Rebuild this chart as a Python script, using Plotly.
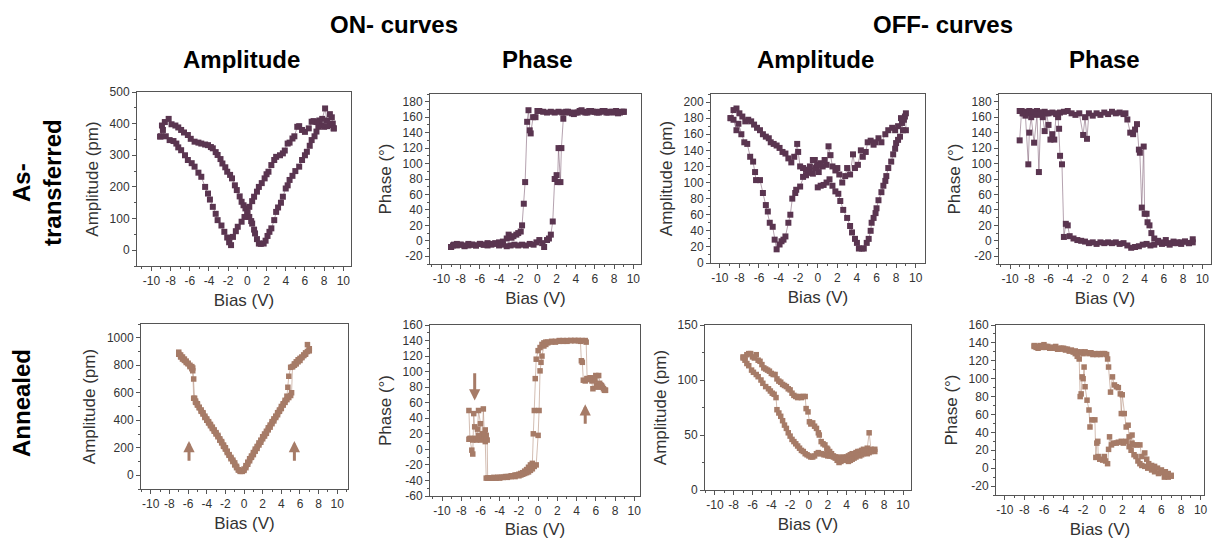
import plotly.graph_objects as go

W, H = 1215, 539

# ---------------- DATA ----------------
# Row 1: As-transferred, ON amplitude
ON_AMP_AS_FWD_BIAS = [-9.0,-8.9,-8.6,-8.2,-7.9,-7.5,-7.2,-6.9,-6.6,-6.2,-5.9,-5.5,-5.1,-4.8,-4.4,-4.1,-3.8,-3.6,-3.3,-3.1,
                      -2.8,-2.6,-2.3,-2.1,-1.8,-1.6,-1.3,-1.1,-0.8,-0.6,-0.4,-0.2,0.0,0.2,0.4,0.5,0.7,0.8,1.0,1.2,
                      1.4,1.7,1.9,2.1,2.3,2.5,2.8,3.0,3.2,3.5,3.7,4.0,4.2,4.4,4.7,5.0,5.4,5.7,6.0,6.2,
                      6.5,6.7,7.0,7.2,7.4,7.7,8.0,8.3,8.6,8.9,9.0]
ON_AMP_AS_FWD_PM = [360,394,405,415,398,394,388,380,372,364,352,343,340,337,334,332,326,322,310,301,
                    288,274,262,248,238,227,205,190,170,153,142,132,118,105,92,84,65,53,35,21,
                    20,21,30,45,58,69,95,121,135,150,169,195,205,222,235,250,264,285,300,311,
                    330,348,360,375,390,395,390,392,395,400,385]
ON_AMP_AS_REV_BIAS = [9.0,8.8,8.6,8.3,8.1,7.8,7.5,7.2,6.9,6.7,6.4,6.0,5.7,5.4,5.2,4.9,4.7,4.4,4.2,3.9,
                      3.7,3.4,3.0,2.8,2.5,2.2,2.0,1.8,1.5,1.2,1.0,0.7,0.5,0.2,0.0,-0.3,-0.6,-1.0,-1.2,-1.5,
                      -1.7,-1.9,-2.1,-2.4,-2.7,-3.1,-3.3,-3.6,-3.9,-4.1,-4.4,-4.8,-5.1,-5.5,-5.8,-6.2,-6.5,-6.9,-7.2,-7.4,
                      -7.7,-8.1,-8.5,-8.8,-9.1]
ON_AMP_AS_REV_PM = [385,420,430,410,448,415,410,405,408,406,385,374,380,392,390,360,353,340,337,315,
                    306,300,295,285,269,248,240,227,212,200,185,169,155,137,120,105,90,74,60,42,
                    16,25,40,58,78,95,115,137,160,179,200,232,245,264,275,285,300,316,325,337,
                    345,348,360,380,359]

# Row 1: As-transferred, ON phase
ON_PH_AS_FWD_BIAS = [-9.0,-8.7,-8.4,-8.0,-7.6,-7.2,-6.8,-6.4,-6.0,-5.6,-5.2,-4.8,-4.4,-4.0,-3.6,-3.2,-2.8,-2.4,-2.0,-1.6,
                     -1.2,-0.8,-0.4,-0.1,0.2,0.5,0.7,1.0,1.2,1.4,1.6,1.8,2.0,2.1,2.2,2.4,2.5,2.7,2.8,3.2,
                     3.6,4.0,4.4,4.8,5.2,5.6,6.0,6.4,6.8,7.2,7.6,8.0,8.4,8.8,9.0]
ON_PH_AS_FWD_DEG = [-8,-5,-6,-5,-7,-6,-5,-6,-4,-5,-6,-5,-4,-6,-5,-7,-6,-5,-6,-5,
                    -6,-4,-5,-2,1,-3,-8,1,3,8,25,80,85,76,120,76,120,158,166,167,
                    165,166,168,167,166,168,167,166,168,166,167,166,165,167,167]
ON_PH_AS_REV_BIAS = [9.0,8.6,8.2,7.8,7.4,7.0,6.6,6.2,5.8,5.4,5.0,4.6,4.2,3.8,3.4,3.0,2.6,2.2,1.8,1.4,
                     1.0,0.6,0.2,0.0,-0.2,-0.45,-0.7,-0.8,-0.93,-1.07,-1.28,-1.42,-1.6,-1.74,-2.0,-2.2,-2.5,-2.7,-3.0,-3.2,
                     -3.6,-4.0,-4.4,-4.8,-5.2,-5.6,-6.0,-6.4,-6.8,-7.2,-7.6,-8.0,-8.4,-8.8,-9.0]
ON_PH_AS_REV_DEG = [167,166,168,167,166,168,167,166,167,168,166,169,166,164,166,167,166,167,166,167,
                    166,167,168,168,160,160,139,143,169,154,76,48,20,12,10,8,6,4,8,3,
                    -1,-2,-3,-4,-3,-5,-4,-6,-5,-4,-6,-5,-4,-6,-8]

# Row 1: As-transferred, OFF amplitude
OFF_AMP_AS_A_BIAS = [0.0,0.3,0.6,0.9,1.2,1.5,1.8,2.1,2.3,2.6,3.0,3.3,3.5,3.8,4.0,4.2,4.5,4.7,5.0,5.2,
                     5.4,5.5,5.7,5.9,6.0,6.2,6.5,6.7,6.9,7.0,7.2,7.5,7.7,7.9,8.0,8.2,8.4,8.6,8.8,8.9,9.0]
OFF_AMP_AS_A_PM = [94,96,97,100,104,96,89,86,77,66,56,46,38,30,25,18,18,18,25,30,
                   40,50,56,62,68,78,88,96,102,108,118,126,135,142,149,153,157,174,178,182,186]
OFF_AMP_AS_B_BIAS = [9.0,8.7,8.5,8.2,7.9,7.6,7.2,6.9,6.5,6.2,5.9,5.7,5.4,5.1,4.9,4.6,4.4,4.1,3.8,3.6,
                     3.3,3.0,2.8,2.5,2.2,2.0,1.8,1.5,1.3,1.1,0.9,0.7,0.5,0.3,0.1,-0.1,-0.3,-0.5,-0.8,-1.0,
                     -1.2,-1.5,-1.8,-2.0,-2.1,-2.4,-2.7,-3.0,-3.3,-3.6,-3.9,-4.2,-4.5,-4.8,-5.0,-5.3,-5.6,-5.9,-6.2,-6.5,
                     -6.8,-7.1,-7.4,-7.7,-8.0,-8.3,-8.6,-8.9]
OFF_AMP_AS_B_PM = [165,165,180,170,165,168,165,160,150,155,150,147,152,150,138,132,140,122,118,135,
                   110,118,108,100,110,118,115,120,134,145,122,128,120,124,113,120,128,111,115,112,
                   109,118,120,138,148,132,125,130,136,138,143,146,148,150,155,157,160,165,168,172,
                   176,178,176,182,186,192,190,180]
OFF_AMP_AS_C_BIAS = [-8.9,-8.6,-8.3,-8.1,-7.8,-7.5,-7.2,-6.9,-6.6,-6.4,-6.3,-5.9,-5.6,-5.3,-5.1,-4.9,-4.6,-4.4,-4.2,-3.9,
                     -3.7,-3.5,-3.3,-3.0,-2.8,-2.6,-2.3,-2.2,-1.8,-1.5,-1.2,-0.8,-0.5,-0.2,0.0]
OFF_AMP_AS_C_PM = [180,178,165,173,160,150,148,132,126,113,103,103,87,72,64,50,45,29,17,23,
                   27,29,33,50,60,80,87,91,95,107,116,120,128,118,122]

# Row 1: As-transferred, OFF phase
OFF_PH_AS_FWD_BIAS = [-9.0,-8.8,-8.6,-8.4,-8.2,-8.0,-7.8,-7.6,-7.2,-6.8,-6.4,-6.0,-5.6,-5.2,-4.8,-4.4,-4.0,-3.6,-3.2,-2.8,
                      -2.4,-2.2,-2.0,-1.8,-1.4,-1.0,-0.6,-0.2,0.2,0.6,1.0,1.4,1.8,2.0,2.2,2.5,2.8,3.0,3.2,3.4,
                      3.5,3.7,3.9,4.0,4.2,4.3,4.5,4.7,5.0,5.4,5.8,6.2,6.6,7.0,7.4,7.8,8.2,8.6,9.0]
OFF_PH_AS_FWD_DEG = [130,168,165,167,165,168,166,167,168,166,167,165,166,164,166,167,168,165,163,165,
                     137,160,132,165,162,165,163,166,164,167,165,166,164,165,157,140,138,144,151,118,
                     114,43,122,35,35,24,20,10,3,0,-2,1,-3,-1,-3,-2,-1,-3,2]
OFF_PH_AS_REV_BIAS = [9.0,8.6,8.2,7.8,7.4,7.0,6.6,6.2,5.8,5.4,5.0,4.6,4.2,3.8,3.4,3.0,2.6,2.2,1.8,1.4,
                      1.0,0.6,0.2,-0.2,-0.6,-1.0,-1.4,-1.8,-2.2,-2.6,-3.0,-3.4,-3.8,-4.0,-4.2,-4.4,-4.6,-4.8,-4.9,-5.0,
                      -5.2,-5.4,-5.6,-5.8,-6.0,-6.2,-6.4,-6.6,-6.8,-7.0,-7.2,-7.5,-7.8,-8.0,-8.1,-8.4,-8.7,-9.0]
OFF_PH_AS_REV_DEG = [-2,-3,-1,-4,-2,-3,-5,-3,-4,-2,-5,-6,-4,-5,-7,-8,-9,-6,-3,-4,
                     -2,-3,-2,-3,-2,-4,-2,-3,-1,0,1,3,6,20,22,5,99,110,145,160,
                     165,131,138,131,150,165,142,160,166,89,163,127,160,140,99,162,165,168]

# Row 2: Annealed, ON amplitude
ON_AMP_AN_FWD_BIAS = [-7.0,-6.8,-6.6,-6.4,-6.2,-6.0,-5.8,-5.6,-5.5,-5.4,-5.2,-5.0,-4.8,-4.6,-4.4,-4.2,-4.0,-3.8,-3.6,-3.4,
                      -3.2,-3.0,-2.8,-2.6,-2.4,-2.2,-2.0,-1.8,-1.6,-1.4,-1.2,-1.0,-0.8,-0.6,-0.4,-0.2,0.0,0.2,0.4,0.6,
                      0.8,1.0,1.2,1.4,1.6,1.8,2.0,2.2,2.4,2.6,2.8,3.0,3.2,3.4,3.6,3.8,4.0,4.2,4.4,4.6,
                      4.8,5.0,5.1,5.2,5.4,5.6,5.8,6.0,6.2,6.4,6.6,6.8,7.0]
ON_AMP_AN_FWD_PM = [880,860,845,835,820,810,790,775,760,560,530,510,490,465,445,420,400,380,360,340,
                    320,300,280,255,235,210,190,165,145,120,100,75,55,38,30,28,35,55,80,105,
                    130,150,175,195,220,240,265,285,305,330,350,375,395,420,440,465,485,510,530,550,
                    565,580,600,790,810,825,840,850,860,875,890,950,905]
ON_AMP_AN_REV_BIAS = [7.0,6.8,6.6,6.4,6.2,6.0,5.8,5.6,5.4,5.2,5.0,4.8,4.7,4.6,4.4,4.2,4.0,3.8,3.6,3.4,
                      3.2,3.0,2.8,2.6,2.4,2.2,2.0,1.8,1.6,1.4,1.2,1.0,0.8,0.6,0.4,0.2,0.0,-0.2,-0.4,-0.6,
                      -0.8,-1.0,-1.2,-1.4,-1.6,-1.8,-2.0,-2.2,-2.4,-2.6,-2.8,-3.0,-3.2,-3.4,-3.6,-3.8,-4.0,-4.2,-4.4,-4.6,
                      -4.8,-5.0,-5.2,-5.3,-5.4,-5.5,-5.6,-5.8,-6.0,-6.2,-6.4,-6.6,-6.8,-7.0]
ON_AMP_AN_REV_PM = [920,900,880,870,855,835,825,810,800,790,785,720,640,575,545,520,500,475,455,430,
                    410,390,365,345,320,300,280,255,235,210,190,165,140,120,95,70,45,30,28,40,
                    65,90,110,130,150,175,200,220,245,265,290,310,330,350,370,390,410,430,455,475,
                    495,520,540,560,700,780,790,800,815,830,845,860,875,895]

# Row 2: Annealed, ON phase
ON_PH_AN_FWD_BIAS = [-7.2,-7.1,-6.9,-6.8,-6.7,-6.6,-6.4,-6.3,-6.2,-6.0,-5.9,-5.8,-5.7,-5.6,-5.5,-5.4,-5.3,-5.25,-5.0,-4.8,
                     -4.6,-4.4,-4.2,-4.0,-3.8,-3.6,-3.4,-3.2,-3.0,-2.8,-2.6,-2.4,-2.2,-2.0,-1.8,-1.6,-1.4,-1.2,-1.0,-0.8,
                     -0.6,-0.5,-0.4,-0.3,-0.2,0.0,0.2,0.4,0.6,0.8,1.0,1.4,1.8,2.2,2.6,3.0,3.4,3.8,4.2,4.4,
                     4.5,4.6,4.7,4.9,5.1,5.3,5.5,5.7,5.9,6.1,6.3,6.5,6.7,6.9,7.0]
ON_PH_AN_FWD_DEG = [50,14,-1,-6,46,29,14,26,50,33,16,14,52,20,25,18,12,-37,-37,-37,
                    -36,-37,-36,-36,-36,-36,-35,-35,-35,-34,-34,-33,-33,-32,-31,-30,-28,-26,-23,-20,
                    -18,20,50,91,116,127,131,135,137,138,138,139,139,140,140,140,140,140,140,139,
                    114,112,89,88,91,90,92,78,89,82,95,83,80,76,76]
ON_PH_AN_REV_BIAS = [7.0,6.8,6.6,6.4,6.2,6.0,5.8,5.6,5.4,5.2,5.1,5.0,4.9,4.6,4.2,3.8,3.4,3.0,2.6,2.2,
                     1.8,1.4,1.0,0.8,0.6,0.4,0.3,0.2,0.1,0.0,-0.2,-0.4,-0.6,-0.8,-1.0,-1.2,-1.4,-1.6,-1.8,-2.0,
                     -2.4,-2.8,-3.2,-3.6,-4.0,-4.4,-4.8,-5.2,-5.4,-5.5,-5.6,-5.8,-6.0,-6.2,-6.4,-6.6,-6.8,-7.0,-7.2]
ON_PH_AN_REV_DEG = [76,78,82,85,80,95,90,88,92,90,91,138,140,140,140,140,140,139,139,139,
                    138,138,137,135,133,120,112,101,50,18,-20,-22,-25,-27,-29,-30,-31,-32,-33,-34,
                    -35,-35,-36,-36,-37,-37,-37,-37,-37,10,15,20,12,18,12,14,12,14,13]

# Row 2: Annealed, OFF amplitude
OFF_AMP_AN_FWD_BIAS = [-7.0,-6.8,-6.6,-6.4,-6.2,-6.0,-5.8,-5.6,-5.4,-5.2,-5.0,-4.8,-4.6,-4.4,-4.2,-4.0,-3.8,-3.6,-3.4,-3.2,
                       -3.0,-2.8,-2.6,-2.4,-2.2,-2.0,-1.8,-1.6,-1.4,-1.2,-1.0,-0.8,-0.6,-0.4,-0.3,-0.1,0.05,0.2,0.4,0.6,
                       0.8,1.0,1.1,1.3,1.5,1.7,1.9,2.0,2.2,2.4,2.6,2.8,3.0,3.2,3.4,3.6,3.8,4.0,4.2,4.4,
                       4.6,4.8,5.0,5.2,5.4,5.6,5.8,6.0,6.2,6.4,6.6,6.8,7.0]
OFF_AMP_AN_FWD_PM = [121,120,123,124,124,121,120,123,118,117,114,111,110,109,108,106,105,105,101,99,
                     98,96,95,94,92,91,88,86,85,84,85,84,85,85,74,71,62,60,61,58,
                     56,52,50,44,42,41,38,37,35,33,31,30,30,28,29,30,29,30,31,32,
                     33,32,34,35,35,36,37,36,38,52,37,36,37]
OFF_AMP_AN_REV_BIAS = [7.0,6.8,6.6,6.4,6.2,6.0,5.8,5.6,5.4,5.2,5.0,4.8,4.6,4.4,4.2,4.0,3.8,3.6,3.4,3.2,
                       3.0,2.8,2.6,2.4,2.2,2.0,1.8,1.6,1.4,1.2,1.0,0.8,0.6,0.4,0.2,0.0,-0.2,-0.4,-0.6,-0.8,
                       -1.0,-1.2,-1.4,-1.6,-1.8,-2.0,-2.2,-2.4,-2.6,-2.8,-3.0,-3.2,-3.4,-3.5,-3.7,-3.9,-4.1,-4.3,-4.6,-4.9,
                       -5.1,-5.4,-5.6,-5.9,-6.1,-6.4,-6.6,-6.8,-7.0]
OFF_AMP_AN_REV_PM = [35,36,35,34,33,35,33,32,31,32,30,29,28,27,26,27,28,27,26,25,
                     27,29,30,31,31,31,32,32,33,33,34,33,31,30,30,31,32,33,35,36,
                     38,40,42,44,46,49,52,56,59,63,67,70,73,84,87,88,90,92,94,97,
                     100,103,105,107,109,113,115,118,120]

# Row 2: Annealed, OFF phase
OFF_PH_AN_FWD_BIAS = [-7.0,-6.8,-6.6,-6.4,-6.2,-6.0,-5.8,-5.6,-5.4,-5.2,-5.0,-4.8,-4.6,-4.4,-4.2,-4.0,-3.8,-3.6,-3.4,-3.2,
                      -3.0,-2.8,-2.6,-2.4,-2.2,-2.0,-1.8,-1.6,-1.4,-1.2,-1.0,-0.8,-0.6,-0.4,-0.2,0.0,0.2,0.4,0.5,0.6,
                      0.8,1.0,1.2,1.4,1.6,1.8,1.9,2.0,2.2,2.4,2.6,2.7,2.9,3.0,3.2,3.4,3.6,3.8,4.0,4.3,
                      4.6,5.0,5.3,5.7,6.0,6.3,6.5,6.7,7.0]
OFF_PH_AN_FWD_DEG = [137,135,136,137,136,138,135,136,134,135,134,136,133,134,133,134,132,133,131,132,
                     130,131,130,129,130,128,130,129,128,129,127,128,127,128,127,128,128,127,122,113,
                     85,102,93,91,90,83,61,82,61,46,48,35,20,28,15,13,8,5,3,2,
                     0,-2,-4,-6,-5,-10,-8,-10,-9]
OFF_PH_AN_REV_BIAS = [7.0,6.7,6.4,6.0,5.6,5.3,5.0,4.7,4.5,4.3,4.0,3.8,3.5,3.2,3.0,2.7,2.4,2.1,1.9,1.6,
                      1.4,1.1,0.9,0.7,0.6,0.5,0.3,0.16,0.0,-0.3,-0.46,-0.5,-0.6,-0.7,-0.8,-1.1,-1.3,-1.4,-1.6,-1.8,
                      -1.9,-2.0,-2.1,-2.2,-2.3,-2.4,-2.6,-2.8,-3.0,-3.4,-3.8,-4.2,-4.6,-5.0,-5.4,-5.8,-6.2,-6.6,-7.0]
OFF_PH_AN_REV_DEG = [-8,-6,-4,-2,0,2,3,5,10,17,13,26,26,26,37,24,30,28,30,29,
                     28,28,26,35,21,5,8,13,9,10,13,30,28,12,54,54,46,65,76,91,
                     113,100,102,83,80,122,125,128,130,131,133,134,133,135,134,136,135,134,136]

# Tick values / labels
X_TICKS = [-10, -8, -6, -4, -2, 0, 2, 4, 6, 8, 10]
Y_TICKS_ON_AMP_AS = [0, 100, 200, 300, 400, 500]
Y_TICKS_PH_AS = [-20, 0, 20, 40, 60, 80, 100, 120, 140, 160, 180]
Y_TICKS_OFF_AMP_AS = [0, 20, 40, 60, 80, 100, 120, 140, 160, 180, 200]
Y_TICKS_ON_AMP_AN = [0, 200, 400, 600, 800, 1000]
Y_TICKS_ON_PH_AN = [-60, -40, -20, 0, 20, 40, 60, 80, 100, 120, 140, 160]
Y_TICKS_OFF_AMP_AN = [0, 50, 100, 150]
Y_TICKS_OFF_PH_AN = [-20, 0, 20, 40, 60, 80, 100, 120, 140, 160]

# Arrow annotations (bias, tail value, head value) for annealed ON panels
ARROWS_ON_AMP_AN = [(-5.9, 95, 250), (5.4, 95, 250)]
ARROWS_ON_PH_AN = [(-6.6, 100, 63), (4.9, 31, 58)]

# ---------------- STYLE / LAYOUT ----------------
PURPLE = "#5a3550"
PURPLE_LINE = "rgba(120,85,110,0.55)"
BROWN = "#a67b67"
BROWN_LINE = "rgba(175,135,115,0.55)"
FONT = "Liberation Sans, Arial, sans-serif"
AXCOL = "#555555"
TXT = "#333333"

PANELS = [
    dict(bias=ON_AMP_AS_FWD_BIAS + ON_AMP_AS_REV_BIAS, val=ON_AMP_AS_FWD_PM + ON_AMP_AS_REV_PM,
         box=(137, 351, 92, 266), xr=(-11.5, 10.8), yr=(-50, 500), yt=Y_TICKS_ON_AMP_AS, ym=50,
         title="Amplitude (pm)", c=PURPLE, lc=PURPLE_LINE, ms=6),
    dict(bias=ON_PH_AS_FWD_BIAS + ON_PH_AS_REV_BIAS, val=ON_PH_AS_FWD_DEG + ON_PH_AS_REV_DEG,
         box=(430, 641, 94, 264), xr=(-11.2, 10.8), yr=(-30, 190), yt=Y_TICKS_PH_AS, ym=10,
         title="Phase (°)", c=PURPLE, lc=PURPLE_LINE, ms=6),
    dict(bias=OFF_AMP_AS_A_BIAS + OFF_AMP_AS_B_BIAS + OFF_AMP_AS_C_BIAS,
         val=OFF_AMP_AS_A_PM + OFF_AMP_AS_B_PM + OFF_AMP_AS_C_PM,
         box=(711, 925, 94, 263), xr=(-10.9, 10.95), yr=(0, 210), yt=Y_TICKS_OFF_AMP_AS, ym=10,
         title="Amplitude (pm)", c=PURPLE, lc=PURPLE_LINE, ms=6),
    dict(bias=OFF_PH_AS_FWD_BIAS + OFF_PH_AS_REV_BIAS, val=OFF_PH_AS_FWD_DEG + OFF_PH_AS_REV_DEG,
         box=(999, 1211, 94, 264), xr=(-11.15, 10.9), yr=(-30, 190), yt=Y_TICKS_PH_AS, ym=10,
         title="Phase (°)", c=PURPLE, lc=PURPLE_LINE, ms=6),
    dict(bias=ON_AMP_AN_FWD_BIAS + ON_AMP_AN_REV_BIAS, val=ON_AMP_AN_FWD_PM + ON_AMP_AN_REV_PM,
         box=(141, 348, 324, 489), xr=(-11.05, 11.15), yr=(-100, 1100), yt=Y_TICKS_ON_AMP_AN, ym=100,
         title="Amplitude (pm)", c=BROWN, lc=BROWN_LINE, ms=5.5),
    dict(bias=ON_PH_AN_FWD_BIAS + ON_PH_AN_REV_BIAS, val=ON_PH_AN_FWD_DEG + ON_PH_AN_REV_DEG,
         box=(430, 640, 325, 496), xr=(-11.25, 10.6), yr=(-60, 160), yt=Y_TICKS_ON_PH_AN, ym=10,
         title="Phase (°)", c=BROWN, lc=BROWN_LINE, ms=5.5),
    dict(bias=OFF_AMP_AN_FWD_BIAS + OFF_AMP_AN_REV_BIAS, val=OFF_AMP_AN_FWD_PM + OFF_AMP_AN_REV_PM,
         box=(705, 911, 325, 490), xr=(-11.05, 10.85), yr=(0, 150), yt=Y_TICKS_OFF_AMP_AN, ym=25,
         title="Amplitude (pm)", c=BROWN, lc=BROWN_LINE, ms=5.5),
    dict(bias=OFF_PH_AN_FWD_BIAS + OFF_PH_AN_REV_BIAS, val=OFF_PH_AN_FWD_DEG + OFF_PH_AN_REV_DEG,
         box=(996, 1204, 325, 495), xr=(-10.9, 10.35), yr=(-30, 160), yt=Y_TICKS_OFF_PH_AN, ym=10,
         title="Phase (°)", c=BROWN, lc=BROWN_LINE, ms=5.5),
]

fig = go.Figure()
layout = {}
for i, p in enumerate(PANELS, start=1):
    sfx = "" if i == 1 else str(i)
    fig.add_trace(go.Scatter(
        x=p["bias"], y=p["val"], mode="lines+markers",
        xaxis="x" + sfx, yaxis="y" + sfx,
        marker=dict(symbol="square", size=p["ms"], color=p["c"], line=dict(width=0)),
        line=dict(color=p["lc"], width=1),
        showlegend=False, hoverinfo="skip"))
    x0, x1, y0, y1 = p["box"]
    common = dict(showline=True, mirror=True, linecolor=AXCOL, linewidth=1,
                  ticks="outside", ticklen=4, tickwidth=1, tickcolor=AXCOL,
                  showgrid=False, zeroline=False, automargin=False,
                  tickfont=dict(family=FONT, size=12, color=TXT))
    layout["xaxis" + sfx] = dict(
        common, domain=[x0 / W, x1 / W], range=list(p["xr"]), anchor="y" + sfx,
        tickmode="array", tickvals=X_TICKS, ticktext=[str(v) for v in X_TICKS],
        minor=dict(ticks="outside", ticklen=2, tickcolor=AXCOL, dtick=1, tick0=0),
        title=dict(text="Bias (V)", font=dict(family=FONT, size=17, color=TXT), standoff=6))
    layout["yaxis" + sfx] = dict(
        common, domain=[1 - y1 / H, 1 - y0 / H], range=list(p["yr"]), anchor="x" + sfx,
        tickmode="array", tickvals=p["yt"], ticktext=[str(v) for v in p["yt"]],
        minor=dict(ticks="outside", ticklen=2, tickcolor=AXCOL, dtick=p["ym"], tick0=0),
        title=dict(text=p["title"], font=dict(family=FONT, size=17, color=TXT), standoff=6))

annotations = []
for xref, yref, arrows in (("x5", "y5", ARROWS_ON_AMP_AN), ("x6", "y6", ARROWS_ON_PH_AN)):
    for bx, tail, head in arrows:
        annotations.append(dict(x=bx, y=head, ax=bx, ay=tail, xref=xref, yref=yref,
                                axref=xref, ayref=yref, text="", showarrow=True,
                                arrowhead=2, arrowsize=0.75, arrowwidth=3, arrowcolor=BROWN))

HEADERS = [("ON- curves", 394, 24), ("OFF- curves", 943, 24),
           ("Amplitude", 241, 60), ("Phase", 537, 60), ("Amplitude", 815, 60), ("Phase", 1104, 60)]
for text, hx, hy in HEADERS:
    annotations.append(dict(text="<b>%s</b>" % text, x=hx / W, y=1 - hy / H, xref="paper", yref="paper",
                            xanchor="center", yanchor="middle", showarrow=False,
                            font=dict(family=FONT, size=24, color="#000000")))
annotations.append(dict(text="<b>As-<br>transferred</b>", x=37 / W, y=1 - 183 / H, xref="paper", yref="paper",
                        xanchor="center", yanchor="middle", showarrow=False, textangle=-90,
                        font=dict(family=FONT, size=24, color="#000000")))
annotations.append(dict(text="<b>Annealed</b>", x=21 / W, y=1 - 403 / H, xref="paper", yref="paper",
                        xanchor="center", yanchor="middle", showarrow=False, textangle=-90,
                        font=dict(family=FONT, size=24, color="#000000")))

fig.update_layout(width=W, height=H, margin=dict(l=0, r=0, t=0, b=0),
                  paper_bgcolor="white", plot_bgcolor="white",
                  annotations=annotations, **layout)
fig.write_html("out.html")
